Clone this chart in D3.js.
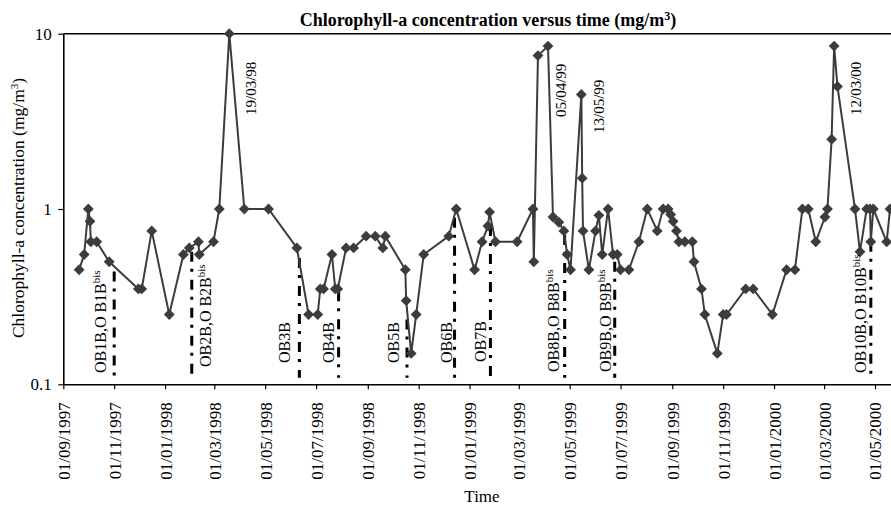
<!DOCTYPE html>
<html>
<head>
<meta charset="utf-8">
<script src="https://cdn.jsdelivr.net/npm/d3@7"></script>
<style>
body { margin: 0; background: #fff; }
text { font-family: "Liberation Serif", "Times New Roman", serif; fill: #000; }
</style>
</head>
<body>
<svg id="chart" width="891" height="506"></svg>
<script>
// sampling dates and chlorophyll-a values (mg/m3)
var sampleDates = [
  "1997-09-20", "1997-09-26", "1997-10-01", "1997-10-03", "1997-10-04", "1997-10-11", "1997-10-26",
  "1997-11-30", "1997-12-04", "1997-12-16", "1998-01-06", "1998-01-23", "1998-01-30", "1998-02-10",
  "1998-02-11", "1998-02-28", "1998-03-07", "1998-03-19", "1998-04-06", "1998-05-05", "1998-06-08",
  "1998-06-22", "1998-07-03", "1998-07-06", "1998-07-10", "1998-07-20", "1998-07-24", "1998-07-27",
  "1998-08-06", "1998-08-15", "1998-08-30", "1998-09-10", "1998-09-19", "1998-09-22", "1998-10-16",
  "1998-10-17", "1998-10-23", "1998-10-29", "1998-11-07", "1998-12-07", "1998-12-16", "1999-01-07",
  "1999-01-16", "1999-01-23", "1999-01-25", "1999-02-01", "1999-02-27", "1999-03-18", "1999-03-19",
  "1999-03-24", "1999-04-05", "1999-04-11", "1999-04-18", "1999-04-24", "1999-04-28", "1999-05-02",
  "1999-05-15", "1999-05-16", "1999-05-17", "1999-05-24", "1999-06-01", "1999-06-05", "1999-06-09",
  "1999-06-16", "1999-06-22", "1999-06-27", "1999-07-01", "1999-07-11", "1999-07-23", "1999-08-02",
  "1999-08-14", "1999-08-21", "1999-08-27", "1999-08-30", "1999-09-02", "1999-09-06", "1999-09-09",
  "1999-09-16", "1999-09-25", "1999-09-27", "1999-10-06", "1999-10-10", "1999-10-25", "1999-11-01",
  "1999-11-05", "1999-11-28", "1999-12-07", "1999-12-30", "2000-01-16", "2000-01-26", "2000-02-04",
  "2000-02-11", "2000-02-20", "2000-03-02", "2000-03-05", "2000-03-10", "2000-03-13", "2000-03-17",
  "2000-04-07", "2000-04-13", "2000-04-21", "2000-04-25", "2000-04-26", "2000-04-29", "2000-05-15",
  "2000-05-19"
];
var chlValues = [
  0.45, 0.55, 1.0, 0.85, 0.65, 0.65, 0.5,
  0.35, 0.35, 0.75, 0.25, 0.55, 0.6, 0.65,
  0.55, 0.65, 1.0, 10, 1.0, 1.0, 0.6,
  0.25, 0.25, 0.35, 0.35, 0.55, 0.35, 0.35,
  0.6, 0.6, 0.7, 0.7, 0.6, 0.7, 0.45,
  0.3, 0.15, 0.25, 0.55, 0.7, 1.0, 0.45,
  0.65, 0.8, 0.96, 0.65, 0.65, 1.0, 0.5,
  7.5, 8.5, 0.9, 0.84, 0.75, 0.55, 0.45,
  4.5, 1.5, 0.75, 0.45, 0.75, 0.92, 0.55,
  1.0, 0.55, 0.55, 0.45, 0.45, 0.65, 1.0,
  0.75, 1.0, 1.0, 0.93, 0.85, 0.75, 0.65,
  0.65, 0.65, 0.5, 0.35, 0.25, 0.15, 0.25,
  0.25, 0.35, 0.35, 0.25, 0.45, 0.45, 1.0,
  1.0, 0.65, 0.9, 1.0, 2.5, 8.5, 5.0,
  1.0, 0.57, 1.0, 1.0, 0.65, 1.0, 0.65,
  1.0
];

var tickDates = [
  "1997-09-01", "1997-11-01", "1998-01-01", "1998-03-01", "1998-05-01", "1998-07-01",
  "1998-09-01", "1998-11-01", "1999-01-01", "1999-03-01", "1999-05-01", "1999-07-01",
  "1999-09-01", "1999-11-01", "2000-01-01", "2000-03-01", "2000-05-01"
];
var yTicks = [10, 1, 0.1];

// sediment-trap stations (dash-dot markers)
var stationNames = ["OB1B,O B1B", "OB2B,O B2B", "OB3B", "OB4B", "OB5B", "OB6B", "OB7B", "OB8B,O B8B", "OB9B,O B9B", "OB10B,O B10B"];
var stationSup = ["bis", "bis", "", "", "", "", "", "bis", "bis", "bis"];
var stationDates = ["1997-11-01", "1998-02-02", "1998-06-11", "1998-07-28", "1998-10-18", "1998-12-14", "1999-01-26", "1999-04-25", "1999-06-24", "2000-04-26"];
var stationTops = [0.44, 0.57, 0.525, 0.34, 0.234, 0.89, 0.80, 0.71, 0.50, 0.65];
var stationBottom = 0.109;

// bloom peak labels
var peakLabels = ["19/03/98", "05/04/99", "13/05/99", "12/03/00"];
var peakDates = ["1998-03-19", "1999-04-05", "1999-05-15", "2000-03-13"];

// label placement (pixels)
var stationLabelDx = [-8, 19, -9, -5, -8, -3, -4, -6, -4, -5];
var stationLabelY = [373, 367, 363, 363, 363, 363, 362, 372, 372, 373];
var peakLabelDx = [27, 18, 23, 27];
var peakLabelY = [115, 117, 133, 115];

var parse = d3.utcParse("%Y-%m-%d");
var fmt = d3.utcFormat("%d/%m/%Y");

var plotLeft = 63.3, plotRight = 891, plotTop = 33.7, plotBottom = 384.3;

// scale fixed by the ticks 01/09/1997 -> 63.3 and 01/05/2000 -> 875
var x0 = d3.scaleUtc().domain([parse("1997-09-01"), parse("2000-05-01")]).range([plotLeft, 875]);
var x = d3.scaleUtc().domain([x0.domain()[0], x0.invert(plotRight)]).range([plotLeft, plotRight]);
var y = d3.scaleLog().domain([0.1, 10]).range([plotBottom, plotTop]);

var svg = d3.select("#chart");

var data = sampleDates.map(function(d, i) { return { date: parse(d), value: chlValues[i] }; });

// x axis
var xAxis = svg.append("g")
  .attr("transform", "translate(0," + plotBottom + ")")
  .call(d3.axisBottom(x).tickValues(tickDates.map(parse)).tickFormat(fmt).tickSize(5).tickSizeOuter(0));
xAxis.select(".domain").attr("stroke", "#000").attr("stroke-width", 1.6);
xAxis.selectAll(".tick line").attr("stroke", "#000").attr("stroke-width", 1.2);
xAxis.selectAll(".tick text")
  .attr("font-size", 17)
  .attr("font-family", "Liberation Serif")
  .attr("fill", "#000")
  .attr("text-anchor", "end")
  .attr("transform", "translate(0,18) rotate(-90)")
  .attr("x", 0)
  .attr("y", 0)
  .attr("dy", "0.35em");

// y axis
var yAxis = svg.append("g")
  .attr("transform", "translate(" + plotLeft + ",0)")
  .call(d3.axisLeft(y).tickValues(yTicks).tickFormat(function(d) { return d; }).tickSize(5).tickSizeOuter(0));
yAxis.select(".domain").attr("stroke", "#000").attr("stroke-width", 1.6);
yAxis.selectAll(".tick line").attr("stroke", "#000").attr("stroke-width", 1.2);
yAxis.selectAll(".tick text")
  .attr("font-size", 17)
  .attr("font-family", "Liberation Serif")
  .attr("fill", "#000")
  .attr("x", -11.5);

// top frame
svg.append("line")
  .attr("x1", plotLeft).attr("x2", plotRight)
  .attr("y1", y(10)).attr("y2", y(10))
  .attr("stroke", "#000").attr("stroke-width", 1.6);

// station dash-dot lines
svg.selectAll(".station")
  .data(stationDates)
  .enter().append("line")
  .attr("class", "station")
  .attr("x1", function(d) { return x(parse(d)); })
  .attr("x2", function(d) { return x(parse(d)); })
  .attr("y1", function(d, i) { return y(stationTops[i]); })
  .attr("y2", y(stationBottom))
  .attr("stroke", "#000")
  .attr("stroke-width", 3)
  .attr("stroke-dasharray", "10,7,3,8");

// concentration line + markers
var line = d3.line()
  .x(function(d) { return x(d.date); })
  .y(function(d) { return y(d.value); });

svg.append("path")
  .datum(data)
  .attr("d", line)
  .attr("fill", "none")
  .attr("stroke", "#3c3c3c")
  .attr("stroke-width", 2);

svg.selectAll(".pt")
  .data(data)
  .enter().append("path")
  .attr("class", "pt")
  .attr("transform", function(d) { return "translate(" + x(d.date) + "," + y(d.value) + ")"; })
  .attr("d", d3.symbol().type(d3.symbolDiamond2).size(75))
  .attr("fill", "#3c3c3c");

// station labels
var stLab = svg.selectAll(".stlab")
  .data(stationNames)
  .enter().append("text")
  .attr("class", "stlab")
  .attr("font-size", 16)
  .attr("transform", function(d, i) {
    return "translate(" + (x(parse(stationDates[i])) + stationLabelDx[i]) + "," + stationLabelY[i] + ") rotate(-90)";
  });
stLab.append("tspan").text(function(d) { return d; });
stLab.append("tspan")
  .attr("font-size", 11)
  .attr("dy", "-0.55em")
  .text(function(d, i) { return stationSup[i]; });

// peak labels
svg.selectAll(".pklab")
  .data(peakLabels)
  .enter().append("text")
  .attr("class", "pklab")
  .attr("font-size", 15)
  .attr("transform", function(d, i) {
    return "translate(" + (x(parse(peakDates[i])) + peakLabelDx[i]) + "," + peakLabelY[i] + ") rotate(-90)";
  })
  .text(function(d) { return d; });

// titles
svg.append("text")
  .attr("x", 488)
  .attr("y", 26)
  .attr("text-anchor", "middle")
  .attr("font-size", 18)
  .attr("font-weight", "bold")
  .html("Chlorophyll-a concentration versus time (mg/m<tspan font-size='12' dy='-6'>3</tspan><tspan dy='6'>)</tspan>");

svg.append("text")
  .attr("transform", "translate(24,208) rotate(-90)")
  .attr("text-anchor", "middle")
  .attr("font-size", 17.5)
  .html("Chlorophyll-a concentration (mg/m<tspan font-size='11' dy='-6'>3</tspan><tspan dy='6'>)</tspan>");

svg.append("text")
  .attr("x", 482)
  .attr("y", 502)
  .attr("text-anchor", "middle")
  .attr("font-size", 17)
  .text("Time");
</script>
</body>
</html>
